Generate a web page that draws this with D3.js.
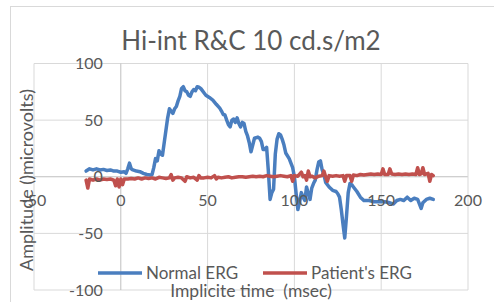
<!DOCTYPE html>
<html>
<head>
<meta charset="utf-8">
<script src="https://cdn.jsdelivr.net/npm/d3@7"></script>
<style>
  body { margin: 0; background: #fff; }
  text { font-family: Lato, "Open Sans", sans-serif; fill: #595959; }
</style>
</head>
<body>
<svg id="chart"></svg>
<script>
var width = 494;
var height = 302;

// chart data
var titleText = "Hi-int R&C 10 cd.s/m2";
var xTicks = [-50, 0, 50, 100, 150, 200];
var yTicks = [-100, -50, 0, 50, 100];
var seriesNames = ["Normal ERG", "Patient's ERG"];

var normalErg = [
  [-20, 5], [-18, 7], [-16, 6], [-14, 7], [-12, 6], [-10, 6.5], [-8, 5.5], [-6, 6], [-4, 5], [-2, 5],
  [0, 4], [2, 4.5], [3, 3], [4, 7], [5, 12], [6, 7], [7, 6], [9, 5], [11, 4.5], [13, 3], [15, 2],
  [17, 1.5], [18, 2], [19, 8], [20, 16], [21, 14], [22, 23], [23, 20], [24, 19], [25, 30], [26, 41],
  [27, 52], [28, 60], [29, 58], [30, 56], [31, 60], [32, 62], [33, 67], [34, 71], [35, 78], [36, 79.5],
  [37, 76], [38, 75], [39, 72], [40, 71], [41, 75], [42, 77], [43, 76], [44, 79.5], [45, 79], [46, 78],
  [47, 76], [48, 74], [49, 72], [51, 70], [53, 67.7], [55, 64], [57, 60.6], [58, 58], [59, 55], [60, 54.5],
  [61, 50], [62, 46], [63, 44], [64, 50], [65, 51], [66, 48], [67, 52], [68, 47], [69, 44], [70, 48],
  [71, 47], [72, 40], [73, 36], [74, 30], [75, 22], [76, 28], [77, 34], [79, 35], [80, 34], [81, 31],
  [82, 24], [83, 24], [84, 26], [85, 5], [86, -20], [87, -14], [88, -11], [89, 20], [90, 33], [91, 38],
  [92, 37], [93, 33], [94, 28], [95, 21], [97, 16], [98, 12], [99, 8], [100, 0], [101, -15], [102, -29],
  [103, -22], [104, -14], [105, -18], [106, -21], [107, -9], [108, -15], [109, -20], [110, -10], [111, -6],
  [112, -3], [113, 6], [114, 13], [115, 14], [116, 6], [117, 2], [118, -5], [120, -9], [122, -12],
  [124, -13], [125, -15], [126, -18], [127, -29], [128, -42], [129, -54], [130, -35], [131, -14],
  [132, -6], [133, -7], [134, -9], [136, -13], [138, -18], [140, -21], [143, -21], [146, -22], [149, -22],
  [152, -22], [155, -23], [157, -24], [159, -21], [161, -20], [163, -21], [165, -18], [167, -21],
  [169, -19], [171, -20], [173, -28], [174, -23], [176, -20], [178, -19], [180, -20]
];

var patientErg = [
  [-20, -3], [-19, -10], [-18, -2], [-16, -3], [-14, -2], [-12, -3], [-10, -2], [-8, -2.5], [-6, -2],
  [-4, -3], [-3, -8], [-2, -2], [-1, -9], [0, -2], [1, -7], [2, -2], [4, -2], [6, -1.5], [8, -2], [10, -1],
  [12, -2], [14, -1], [16, -1.5], [18, -1], [20, -2], [22, -0.5], [24, -1], [26, -1.5], [28, -1], [29, 2],
  [30, -3], [31, -1], [33, -0.5], [35, -1], [37, -4], [38, 0], [40, -1], [42, -0.5], [44, -3], [45, 1],
  [46, -1], [48, -1], [50, -0.5], [52, -1], [54, 1], [55, -2], [56, -0.5], [58, -1], [60, -0.5], [62, 0],
  [64, -1], [66, -0.5], [68, 0], [70, 0], [72, -0.5], [74, 0], [76, 0.5], [78, 0], [80, 0.5], [82, 0],
  [84, 1], [86, 0.5], [88, 0], [90, 0.5], [92, 1], [94, 0.5], [96, 0], [98, 1], [99, -4], [100, 1],
  [102, 0.5], [104, 4], [105, 0], [106, 1], [107, -3], [108, 5], [109, 0], [110, 0.5], [112, -1],
  [114, 0.5], [116, 1], [117, 5], [118, 0], [119, -4], [120, 1], [122, 0.5], [124, 1], [126, 0.5],
  [128, 1], [129, -4], [130, 1], [132, 1], [133, -4], [134, 1.5], [136, 1], [138, 2], [140, 1.5], [142, 2],
  [144, 2.5], [146, 2], [148, 2.5], [150, 2], [151, 7], [152, 2], [154, 2], [155, 7], [156, 2.5],
  [158, 2], [160, 2.5], [162, 2], [164, 2.5], [166, 2], [168, 2.5], [170, 2], [171, 8], [172, 2],
  [173, 2.5], [174, 8], [175, 2], [177, 3], [178, -4], [179, 2], [180, 1]
];

var colors = ["#4a7ebf", "#c0504d"];

var svg = d3.select("#chart")
  .attr("width", width)
  .attr("height", height);

// chart frame
svg.append("rect")
  .attr("x", 10.5).attr("y", 6.5)
  .attr("width", 500).attr("height", 320)
  .attr("fill", "#fff")
  .attr("stroke", "#d9d9d9");

var plotLeft = 34, plotRight = 468, plotTop = 63.5, plotBottom = 290;

var x = d3.scaleLinear().domain([-50, 200]).range([plotLeft, plotRight]);
var y = d3.scaleLinear().domain([-100, 100]).range([plotBottom, plotTop]);

// gridlines
svg.append("g").selectAll("line")
  .data(yTicks)
  .join("line")
  .attr("x1", plotLeft).attr("x2", plotRight)
  .attr("y1", d => y(d)).attr("y2", d => y(d))
  .attr("stroke", d => d === 0 ? "#bfbfbf" : "#d9d9d9")
  .attr("stroke-width", 1);

svg.append("g").selectAll("line")
  .data(xTicks)
  .join("line")
  .attr("x1", d => x(d)).attr("x2", d => x(d))
  .attr("y1", plotTop).attr("y2", plotBottom)
  .attr("stroke", d => d === 0 ? "#bfbfbf" : "#d9d9d9")
  .attr("stroke-width", 1);

// series
var line = d3.line()
  .x(d => x(d[0]))
  .y(d => y(d[1]));

[normalErg, patientErg].forEach(function (s, i) {
  svg.append("path")
    .datum(s)
    .attr("d", line)
    .attr("fill", "none")
    .attr("stroke", colors[i])
    .attr("stroke-width", 3.5)
    .attr("stroke-linejoin", "round")
    .attr("stroke-linecap", "round");
});

// tick labels
svg.append("g").selectAll("text")
  .data(yTicks)
  .join("text")
  .attr("x", x(0) - 18)
  .attr("y", d => y(d))
  .attr("dy", "0.35em")
  .attr("text-anchor", "end")
  .attr("font-size", 16)
  .text(d => d);

svg.append("g").selectAll("text")
  .data(xTicks)
  .join("text")
  .attr("x", d => x(d))
  .attr("y", y(0) + 29)
  .attr("text-anchor", "middle")
  .attr("font-size", 16)
  .text(d => d);

// titles
svg.append("text")
  .attr("x", 251).attr("y", 50)
  .attr("text-anchor", "middle")
  .attr("font-size", 26)
  .text(titleText);

svg.append("text")
  .attr("transform", "translate(33,180) rotate(-90)")
  .attr("text-anchor", "middle")
  .attr("font-size", 18)
  .text("Amplitude ()microvolts)");

svg.append("text")
  .attr("x", 251).attr("y", 297)
  .attr("text-anchor", "middle")
  .attr("font-size", 17.5)
  .style("white-space", "pre")
  .text("Implicite time  (msec)");

// legend
var legendX = [98, 263];
seriesNames.forEach(function (name, i) {
  svg.append("line")
    .attr("x1", legendX[i]).attr("x2", legendX[i] + 44)
    .attr("y1", 273).attr("y2", 273)
    .attr("stroke", colors[i])
    .attr("stroke-width", 3.5);
  svg.append("text")
    .attr("x", legendX[i] + 48).attr("y", 279)
    .attr("font-size", 17)
    .text(name);
});
</script>
</body>
</html>
